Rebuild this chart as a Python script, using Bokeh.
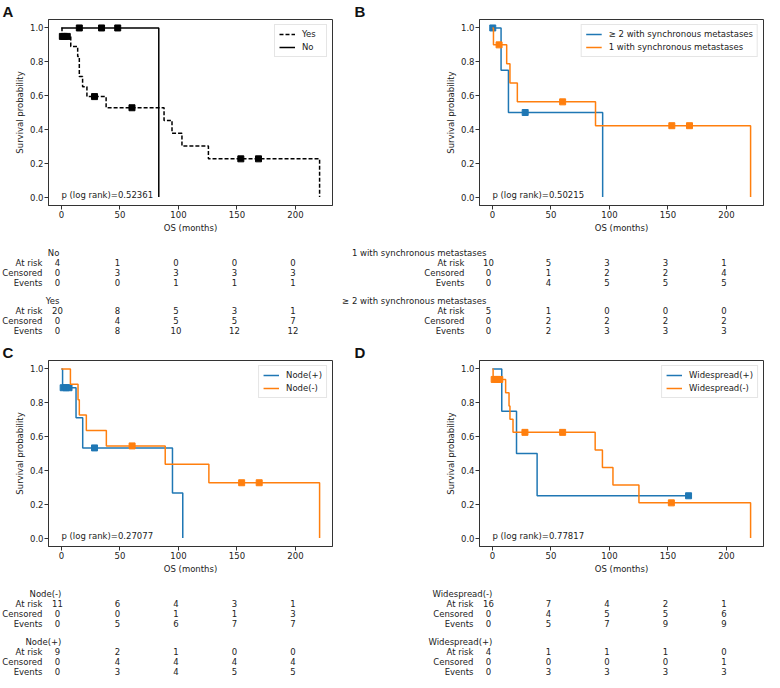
import numpy as np
from bokeh.plotting import figure
from bokeh.models import (Range1d, FixedTicker, PrintfTickFormatter, Legend,
                          LegendItem, Label)
from bokeh.layouts import row, column
from bokeh.embed import file_html
from bokeh.resources import INLINE
from bokeh.core.properties import value

# ---------------- data ----------------
x_ticks = [0, 50, 100, 150, 200]
y_ticks = [0.0, 0.2, 0.4, 0.6, 0.8, 1.0]
row_names = ["At risk", "Censored", "Events"]

# Panel A
a_yes_t = [0, 0.5, 8.0, 13.9, 15.3, 18.1, 21.8, 38.2, 87.7, 94.5, 103.0, 125.6, 220.6]
a_yes_s = [1.0, 0.95, 0.891, 0.831, 0.713, 0.653, 0.594, 0.528, 0.453, 0.377, 0.302, 0.226, 0.0]
a_yes_cens_t = [0.8, 2.5, 5.0, 28.3, 60.3, 153.3, 168.4]
a_yes_cens_s = [0.95, 0.95, 0.95, 0.594, 0.528, 0.226, 0.226]
a_no_t = [0, 83.2]
a_no_s = [1.0, 0.0]
a_no_cens_t = [15.3, 34.3, 48.1]
a_no_cens_s = [1.0, 1.0, 1.0]
a_pval = "p (log rank)=0.52361"
a_tab_names = ["No", "Yes"]
a_no_risk, a_no_cens, a_no_evt = [4, 1, 0, 0, 0], [0, 3, 3, 3, 3], [0, 0, 1, 1, 1]
a_yes_risk, a_yes_cens, a_yes_evt = [20, 8, 5, 3, 1], [0, 4, 5, 5, 7], [0, 8, 10, 12, 12]

# Panel B
b_ge2_t = [0, 7.4, 13.7, 94.2]
b_ge2_s = [1.0, 0.75, 0.5, 0.0]
b_ge2_cens_t = [0.3, 28.0]
b_ge2_cens_s = [1.0, 0.5]
b_one_t = [0, 0.9, 12.2, 15.0, 21.3, 88.1, 220.6]
b_one_s = [1.0, 0.9, 0.788, 0.675, 0.563, 0.422, 0.0]
b_one_cens_t = [5.7, 60.0, 153.3, 168.4]
b_one_cens_s = [0.9, 0.563, 0.422, 0.422]
b_pval = "p (log rank)=0.50215"
b_tab_names = ["1 with synchronous metastases", "\u2265 2 with synchronous metastases"]
b_one_risk, b_one_cens, b_one_evt = [10, 5, 3, 3, 1], [0, 1, 2, 2, 4], [0, 4, 5, 5, 5]
b_ge2_risk, b_ge2_cens, b_ge2_evt = [5, 1, 0, 0, 0], [0, 2, 2, 2, 2], [0, 2, 3, 3, 3]

# Panel C
c_pos_t = [0, 1.0, 12.5, 18.2, 94.9, 103.7]
c_pos_s = [1.0, 0.889, 0.711, 0.533, 0.267, 0.0]
c_pos_cens_t = [1.5, 4.0, 6.5, 28.3]
c_pos_cens_s = [0.889, 0.889, 0.889, 0.533]
c_neg_t = [0, 7.7, 14.2, 15.3, 21.3, 38.4, 88.7, 126.0, 220.6]
c_neg_s = [1.0, 0.909, 0.818, 0.727, 0.636, 0.545, 0.436, 0.327, 0.0]
c_neg_cens_t = [60.4, 154.0, 169.0]
c_neg_cens_s = [0.545, 0.327, 0.327]
c_pval = "p (log rank)=0.27077"
c_tab_names = ["Node(-)", "Node(+)"]
c_neg_risk, c_neg_cens, c_neg_evt = [11, 6, 4, 3, 1], [0, 0, 1, 1, 3], [0, 5, 6, 7, 7]
c_pos_risk, c_pos_cens, c_pos_evt = [9, 2, 1, 0, 0], [0, 4, 4, 4, 4], [0, 3, 4, 5, 5]

# Panel D
d_pos_t = [0, 8.0, 20.6, 38.2, 167.6]
d_pos_s = [1.0, 0.75, 0.5, 0.25, 0.25]
d_pos_cens_t = [167.6]
d_pos_cens_s = [0.25]
d_neg_t = [0, 0.6, 11.3, 14.2, 15.0, 17.6, 87.8, 94.0, 103.0, 125.2, 220.6]
d_neg_s = [1.0, 0.938, 0.859, 0.781, 0.703, 0.625, 0.521, 0.417, 0.313, 0.208, 0.0]
d_neg_cens_t = [1.5, 4.0, 6.3, 27.8, 60.0, 152.9]
d_neg_cens_s = [0.938, 0.938, 0.938, 0.625, 0.625, 0.208]
d_pval = "p (log rank)=0.77817"
d_tab_names = ["Widespread(-)", "Widespread(+)"]
d_neg_risk, d_neg_cens, d_neg_evt = [16, 7, 4, 2, 1], [0, 4, 5, 5, 6], [0, 5, 7, 9, 9]
d_pos_risk, d_pos_cens, d_pos_evt = [4, 1, 1, 1, 0], [0, 0, 0, 0, 1], [0, 3, 3, 3, 3]

# ---------------- styling ----------------
FONT = "DejaVu Sans"
FS = "8.5px"
TXT = "#222222"
BLUE, ORANGE, BLACK = "#1f77b4", "#ff7f0e", "#000000"
FW, FH = 284, 186
KM_TOP, KM_BOT = 17, 33
LEFT_W, RIGHT_W = 340, 424
LEFT_BORDER, RIGHT_BORDER = 48, 139


def km_figure(letter, curves, pval, left_border, right_border, letter_offset):
    xmax = max(max(c["t"]) for c in curves)
    x_lo, x_hi = -0.05 * xmax, xmax * 1.05
    p = figure(frame_width=FW, frame_height=FH,
               min_border_left=left_border, min_border_right=right_border,
               min_border_top=KM_TOP, min_border_bottom=KM_BOT,
               x_range=Range1d(x_lo, x_hi), y_range=Range1d(-0.05, 1.05),
               output_backend="svg", toolbar_location=None, title=letter)
    p.frame_align = False
    p.title.align = "left"
    p.title.offset = letter_offset
    p.title.text_font = "Liberation Sans"
    p.title.text_font_size = "15px"
    p.title.text_font_style = "bold"
    p.title.text_color = "#111111"
    p.title.standoff = 0
    p.grid.visible = False
    p.outline_line_color = "#333333"
    p.background_fill_color = "white"
    p.border_fill_color = "white"
    for ax in (p.xaxis[0], p.yaxis[0]):
        ax.major_label_text_font = FONT
        ax.major_label_text_font_size = FS
        ax.major_label_text_color = TXT
        ax.axis_label_text_font = FONT
        ax.axis_label_text_font_size = FS
        ax.axis_label_text_font_style = "normal"
        ax.axis_label_text_color = TXT
        ax.major_tick_in = 0
        ax.major_tick_out = 4
        ax.minor_tick_in = 0
        ax.minor_tick_out = 0
        ax.axis_line_color = "#333333"
        ax.major_tick_line_color = "#333333"
        ax.major_label_standoff = 1
        ax.axis_label_standoff = 2
    p.xaxis.ticker = FixedTicker(ticks=x_ticks)
    p.yaxis.ticker = FixedTicker(ticks=y_ticks)
    p.yaxis.formatter = PrintfTickFormatter(format="%.1f")
    p.xaxis.axis_label = "OS (months)"
    p.yaxis.axis_label = "Survival probability"

    items = []
    for c in curves:
        r = p.step(x=c["t"], y=c["s"], mode="after", line_color=c["color"],
                   line_width=1.5, line_dash=c.get("dash", "solid"))
        p.scatter(x=c["ct"], y=c["cs"], marker="square", size=6,
                  fill_color=c["color"], line_color=c["color"])
        items.append(LegendItem(label=c["label"], renderers=[r]))
    leg = Legend(items=items, location="top_right")
    leg.label_text_font = FONT
    leg.label_text_font_size = FS
    leg.label_text_color = TXT
    leg.label_height = 10
    leg.glyph_height = 10
    leg.glyph_width = 16
    leg.label_standoff = 7
    leg.spacing = 3
    leg.padding = 4
    leg.margin = 5
    leg.border_line_color = "#cccccc"
    leg.border_line_width = 1
    leg.background_fill_alpha = 0.8
    p.add_layout(leg)

    p.add_layout(Label(x=0, y=0, text=pval, text_font=FONT, text_font_size=FS,
                       text_color=TXT, text_baseline="alphabetic", text_align="left",
                       y_offset=2))
    return p, x_lo, x_hi


def table_figure(groups, x_lo, x_hi, left_px, width, height, top, label_off, title_off):
    k = FW / (x_hi - x_lo)
    t_lo = x_lo - left_px / k
    t_hi = t_lo + width / k
    p = figure(width=width, height=height, x_range=Range1d(t_lo, t_hi),
               y_range=Range1d(height, 0), x_axis_type=None, y_axis_type=None,
               min_border=0, toolbar_location=None, output_backend="svg")
    p.frame_align = False
    p.grid.visible = False
    p.outline_line_color = None
    common = dict(text_font=value(FONT), text_font_size=FS, text_color=TXT,
                  text_baseline="middle")
    for g, (name, rows) in enumerate(groups):
        y0 = top + 48 * g
        p.text(x=[x_ticks[0]], y=[y0], text=[name], text_align="right",
               x_offset=title_off, **common)
        for r, (rname, vals) in enumerate(zip(row_names, rows)):
            yy = y0 + 10 * (r + 1)
            p.text(x=[x_ticks[0]], y=[yy], text=[rname], text_align="right",
                   x_offset=label_off, **common)
            p.text(x=[x_ticks[0]], y=[yy], text=[str(vals[0])], text_align="center",
                   x_offset=-4, **common)
            p.text(x=x_ticks[1:], y=[yy] * (len(x_ticks) - 1),
                   text=[str(v) for v in vals[1:]], text_align="center",
                   x_offset=-2.5, **common)
    return p


panels = [
    dict(letter="A", pval=a_pval, side="left", label_off=-19, title_off=-2,
         curves=[dict(t=a_yes_t, s=a_yes_s, ct=a_yes_cens_t, cs=a_yes_cens_s, color=BLACK,
                      dash="4 2", label="Yes"),
                 dict(t=a_no_t, s=a_no_s, ct=a_no_cens_t, cs=a_no_cens_s, color=BLACK,
                      label="No")],
         groups=[(a_tab_names[0], [a_no_risk, a_no_cens, a_no_evt]),
                 (a_tab_names[1], [a_yes_risk, a_yes_cens, a_yes_evt])]),
    dict(letter="B", pval=b_pval, side="right", label_off=-28, title_off=-6,
         curves=[dict(t=b_ge2_t, s=b_ge2_s, ct=b_ge2_cens_t, cs=b_ge2_cens_s, color=BLUE,
                      label="\u2265 2 with synchronous metastases"),
                 dict(t=b_one_t, s=b_one_s, ct=b_one_cens_t, cs=b_one_cens_s, color=ORANGE,
                      label="1 with synchronous metastases")],
         groups=[(b_tab_names[0], [b_one_risk, b_one_cens, b_one_evt]),
                 (b_tab_names[1], [b_ge2_risk, b_ge2_cens, b_ge2_evt])]),
    dict(letter="C", pval=c_pval, side="left", label_off=-19, title_off=0,
         curves=[dict(t=c_pos_t, s=c_pos_s, ct=c_pos_cens_t, cs=c_pos_cens_s, color=BLUE,
                      label="Node(+)"),
                 dict(t=c_neg_t, s=c_neg_s, ct=c_neg_cens_t, cs=c_neg_cens_s, color=ORANGE,
                      label="Node(-)")],
         groups=[(c_tab_names[0], [c_neg_risk, c_neg_cens, c_neg_evt]),
                 (c_tab_names[1], [c_pos_risk, c_pos_cens, c_pos_evt])]),
    dict(letter="D", pval=d_pval, side="right", label_off=-19, title_off=0,
         curves=[dict(t=d_pos_t, s=d_pos_s, ct=d_pos_cens_t, cs=d_pos_cens_s, color=BLUE,
                      label="Widespread(+)"),
                 dict(t=d_neg_t, s=d_neg_s, ct=d_neg_cens_t, cs=d_neg_cens_s, color=ORANGE,
                      label="Widespread(-)")],
         groups=[(d_tab_names[0], [d_neg_risk, d_neg_cens, d_neg_evt]),
                 (d_tab_names[1], [d_pos_risk, d_pos_cens, d_pos_evt])]),
]

cols = []
for i, pn in enumerate(panels):
    if pn["side"] == "left":
        lb, rb, w, loff = LEFT_BORDER, LEFT_W - LEFT_BORDER - FW, LEFT_W, -46
    else:
        lb, rb, w, loff = RIGHT_BORDER, RIGHT_W - RIGHT_BORDER - FW, RIGHT_W, -125
    km, x_lo, x_hi = km_figure(pn["letter"], pn["curves"], pn["pval"], lb, rb, loff)
    th, top = (103, 14) if i < 2 else (97, 14)
    tab = table_figure(pn["groups"], x_lo, x_hi, lb, w, th, top, pn["label_off"], pn["title_off"])
    cols.append(column(km, tab, spacing=0))

layout = column(row(cols[0], cols[1], spacing=0), row(cols[2], cols[3], spacing=0), spacing=0)

open("out.html", "w").write(file_html(layout, INLINE))
